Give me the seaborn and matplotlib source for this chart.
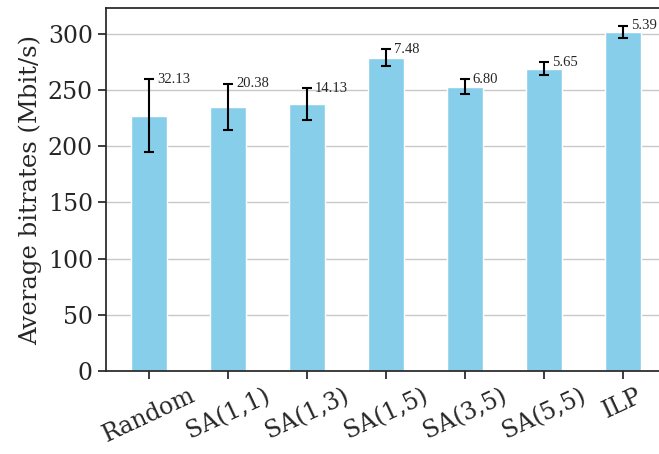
import matplotlib
matplotlib.use("Agg")
import matplotlib.pyplot as plt
import seaborn as sns
import pandas as pd

# Mean bitrate per placement strategy and its standard deviation
methods = ["Random", "SA(1,1)", "SA(1,3)", "SA(1,5)", "SA(3,5)", "SA(5,5)", "ILP"]
mean_bitrate = [227.1, 234.8, 237.4, 278.5, 252.8, 268.9, 301.5]
std_bitrate = [32.13, 20.38, 14.13, 7.48, 6.80, 5.65, 5.39]

df = pd.DataFrame({"method": methods, "bitrate": mean_bitrate, "std": std_bitrate})

sns.set_theme(style="ticks")
plt.rcParams["font.family"] = ["DejaVu Serif"]

fig = plt.figure(figsize=(6.59, 4.54), dpi=100)
ax = fig.add_axes([0.1609, 0.1828, 0.8496, 0.799])

sns.barplot(data=df, x="method", y="bitrate", color="skyblue", saturation=1,
            width=0.45, errorbar=None, ax=ax, zorder=2)

xpos = list(range(len(methods)))
ax.errorbar(xpos, df["bitrate"], yerr=df["std"], fmt="none", ecolor="black",
            elinewidth=1.5, capsize=3.5, capthick=1.5, zorder=3)

for x, m, s in zip(xpos, df["bitrate"], df["std"]):
    ax.text(x + 0.1, m + s, f"{s:.2f}", ha="left", va="center",
            fontsize=10.5, family="Liberation Serif", zorder=4)

ax.set_xlim(-0.547, len(methods) - 1 + 0.547)
ax.set_ylim(0, 322.5)
ax.set_yticks([0, 50, 100, 150, 200, 250, 300])
ax.yaxis.grid(True, color="#c8c8c8", linewidth=1.0, zorder=0)
ax.set_axisbelow(True)

ax.set_xlabel("")
ax.set_ylabel("Average bitrates (Mbit/s)", fontsize=17.5)
ax.tick_params(axis="y", labelsize=17)
ax.tick_params(axis="x", labelsize=17)
for lbl in ax.get_xticklabels():
    lbl.set_rotation(25)
    lbl.set_ha("center")

fig.savefig("out.png", dpi=100)
